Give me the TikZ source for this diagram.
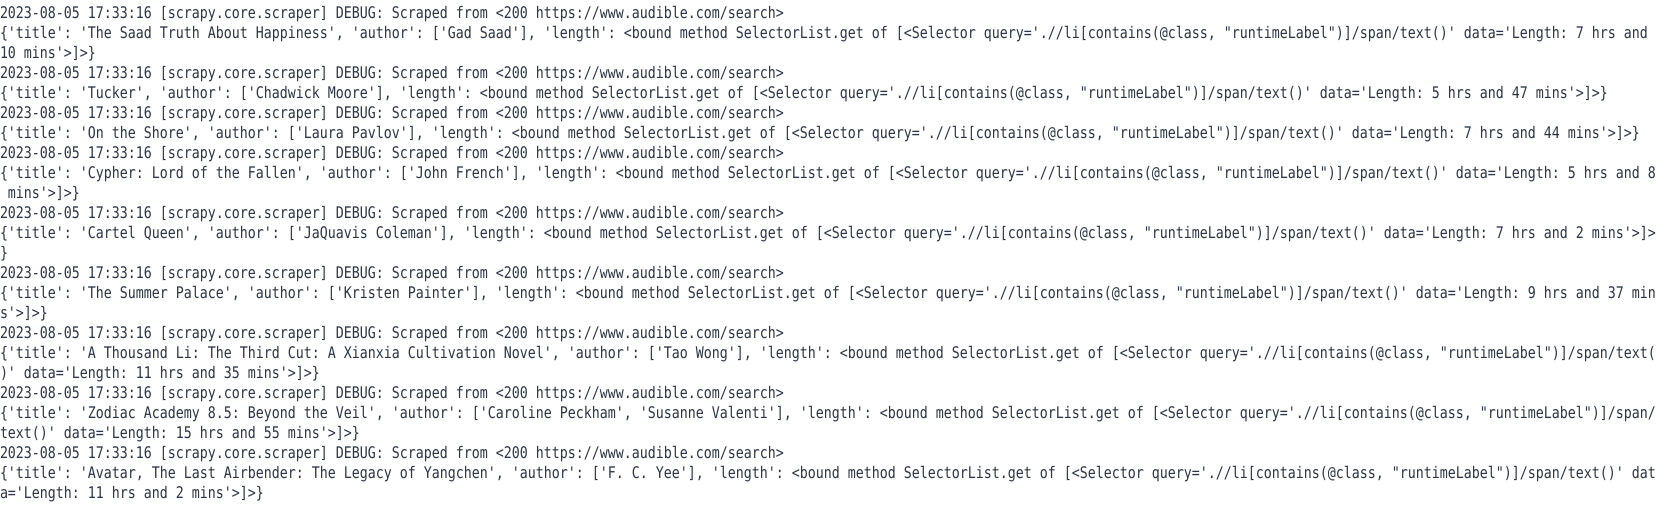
\documentclass[tikz,border=0pt]{standalone}
\usepackage{fontspec}
\setmonofont[FakeStretch=0.8305]{DejaVu Sans Mono}
\definecolor{termtext}{HTML}{2B3544}
\newcommand\LogHead{2023-08-05 17:33:16 [scrapy.core.scraper] DEBUG: Scraped from <200 https://www.audible.com/search>}
\newcommand\BndMeth{<bound method SelectorList.get of [<Selector query='.//li[contains(@class, "runtimeLabel")]/span/text()' data='Length: }
\begin{document}
\begin{tikzpicture}[x=1pt,y=-1pt,
  ln/.style={anchor=base west,inner sep=0pt,outer sep=0pt,text=termtext,
    font=\ttfamily\fontsize{16pt}{20pt}\selectfont\frenchspacing}]
\fill[white] (0,0) rectangle (1663,505);
\useasboundingbox (0,0) rectangle (1663,505);
\def\py#1{19+(#1-1)*19.96}
\node[ln] (l1)  at (0,{\py{1}})  {\LogHead};
\node[ln] (l2)  at (0,{\py{2}})  {\{'title': 'The Saad Truth About Happiness', 'author': ['Gad Saad'], 'length': \BndMeth7 hrs and};
\node[ln] (l3)  at (0,{\py{3}})  {10 mins'>]>\}};
\node[ln] (l4)  at (0,{\py{4}})  {\LogHead};
\node[ln] (l5)  at (0,{\py{5}})  {\{'title': 'Tucker', 'author': ['Chadwick Moore'], 'length': \BndMeth5 hrs and 47 mins'>]>\}};
\node[ln] (l6)  at (0,{\py{6}})  {\LogHead};
\node[ln] (l7)  at (0,{\py{7}})  {\{'title': 'On the Shore', 'author': ['Laura Pavlov'], 'length': \BndMeth7 hrs and 44 mins'>]>\}};
\node[ln] (l8)  at (0,{\py{8}})  {\LogHead};
\node[ln] (l9)  at (0,{\py{9}})  {\{'title': 'Cypher: Lord of the Fallen', 'author': ['John French'], 'length': \BndMeth5 hrs and 8};
\node[ln] (l10) at (8,{\py{10}}) {mins'>]>\}};
\node[ln] (l11) at (0,{\py{11}}) {\LogHead};
\node[ln] (l12) at (0,{\py{12}}) {\{'title': 'Cartel Queen', 'author': ['JaQuavis Coleman'], 'length': \BndMeth7 hrs and 2 mins'>]>};
\node[ln] (l13) at (0,{\py{13}}) {\}};
\node[ln] (l14) at (0,{\py{14}}) {\LogHead};
\node[ln] (l15) at (0,{\py{15}}) {\{'title': 'The Summer Palace', 'author': ['Kristen Painter'], 'length': \BndMeth9 hrs and 37 min};
\node[ln] (l16) at (0,{\py{16}}) {s'>]>\}};
\node[ln] (l17) at (0,{\py{17}}) {\LogHead};
\node[ln] (l18) at (0,{\py{18}}) {\{'title': 'A Thousand Li: The Third Cut: A Xianxia Cultivation Novel', 'author': ['Tao Wong'], 'length': <bound method SelectorList.get of [<Selector query='.//li[contains(@class, "runtimeLabel")]/span/text(};
\node[ln] (l19) at (0,{\py{19}}) {)' data='Length: 11 hrs and 35 mins'>]>\}};
\node[ln] (l20) at (0,{\py{20}}) {\LogHead};
\node[ln] (l21) at (0,{\py{21}}) {\{'title': 'Zodiac Academy 8.5: Beyond the Veil', 'author': ['Caroline Peckham', 'Susanne Valenti'], 'length': <bound method SelectorList.get of [<Selector query='.//li[contains(@class, "runtimeLabel")]/span/};
\node[ln] (l22) at (0,{\py{22}}) {text()' data='Length: 15 hrs and 55 mins'>]>\}};
\node[ln] (l23) at (0,{\py{23}}) {\LogHead};
\node[ln] (l24) at (0,{\py{24}}) {\{'title': 'Avatar, The Last Airbender: The Legacy of Yangchen', 'author': ['F. C. Yee'], 'length': <bound method SelectorList.get of [<Selector query='.//li[contains(@class, "runtimeLabel")]/span/text()' dat};
\node[ln] (l25) at (0,{\py{25}}) {a='Length: 11 hrs and 2 mins'>]>\}};
\end{tikzpicture}
\end{document}
